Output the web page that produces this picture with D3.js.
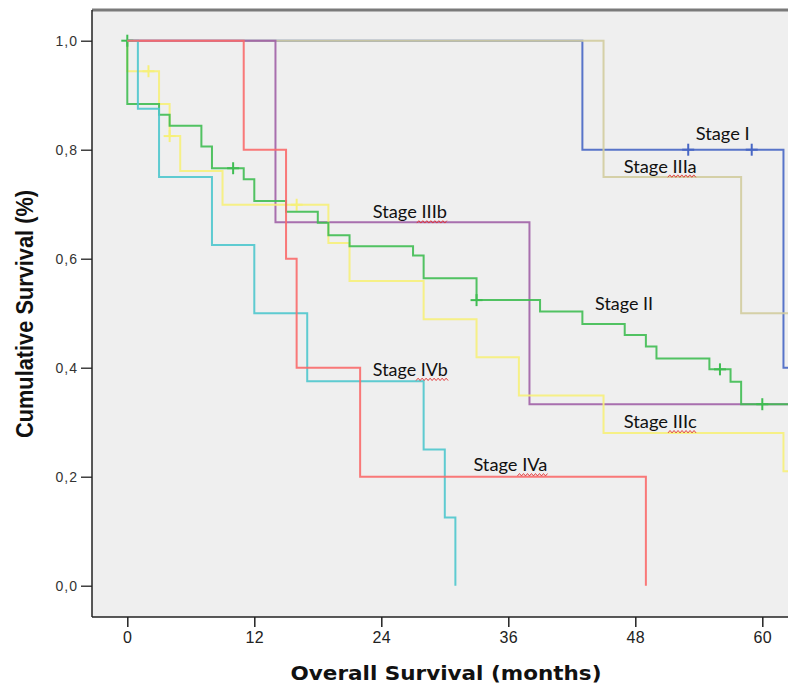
<!DOCTYPE html>
<html>
<head>
<meta charset="utf-8">
<script src="https://cdn.jsdelivr.net/npm/d3@7"></script>
<style>
  body { margin: 0; background: #fff; }
  svg { display: block; }
</style>
</head>
<body>
<script>
// Kaplan-Meier curves by stage: each step is [month, survival after the drop]
const stageI_steps = [[43, 0.8], [62, 0.4]];
const stageI_censor = [[53, 0.8], [59, 0.8]];

const stageII_steps = [[0, 0.884], [3, 0.864], [4, 0.844], [7, 0.806], [8, 0.766], [11, 0.746], [12, 0.706],
    [15, 0.686], [18, 0.666], [19, 0.643], [21, 0.623], [27, 0.606], [28, 0.564], [33, 0.524], [39, 0.503],
    [43, 0.48], [47, 0.46], [49, 0.439], [50, 0.417], [55, 0.397], [57, 0.374], [58, 0.333]];
const stageII_censor = [[0, 1], [10, 0.766], [33, 0.524], [56, 0.397], [60, 0.333]];

const stageIIIa_steps = [[45, 0.75], [58, 0.5]];
const stageIIIb_steps = [[14, 0.667], [38, 0.333]];

const stageIIIc_steps = [[0, 0.944], [3, 0.884], [4, 0.825], [5, 0.761], [9, 0.699], [19, 0.629], [21, 0.559],
    [28, 0.489], [33, 0.419], [37, 0.349], [45, 0.28], [62, 0.21]];
const stageIIIc_censor = [[2, 0.944], [4, 0.825], [16, 0.699]];

const stageIVa_steps = [[11, 0.8], [15, 0.6], [16, 0.4], [22, 0.2], [49, 0]];
const stageIVb_steps = [[1, 0.875], [3, 0.75], [8, 0.625], [12, 0.5], [17, 0.375], [28, 0.25], [30, 0.125], [31, 0]];

const xTicks = [0, 12, 24, 36, 48, 60];
const yTicks = [0, 0.2, 0.4, 0.6, 0.8, 1.0];

// label anchors [month, survival] for the in-plot stage names
const labelNames = ['Stage I', 'Stage IIIa', 'Stage IIIb', 'Stage II', 'Stage IIIc', 'Stage IVb', 'Stage IVa'];
const labelAnchors = [[53.7, 0.818], [46.9, 0.758], [23.2, 0.674], [44.2, 0.506], [46.9, 0.289], [23.2, 0.385], [32.7, 0.21]];
const labelWidths = [54, 73, 74, 58, 73, 75, 74];

const W = 788, H = 688;
const FRAME = { left: 92, top: 10, right: 800, bottom: 617 };

// drawn bottom to top
const series = [
    { name: 'Stage I', steps: stageI_steps, censor: stageI_censor, end: 66, color: '#4766c4' },
    { name: 'Stage IIIa', steps: stageIIIa_steps, censor: [], end: 66, color: '#d2cc9e' },
    { name: 'Stage IIIb', steps: stageIIIb_steps, censor: [], end: 66, color: '#a060a6' },
    { name: 'Stage IIIc', steps: stageIIIc_steps, censor: stageIIIc_censor, end: 66, color: '#f6f07a' },
    { name: 'Stage II', steps: stageII_steps, censor: stageII_censor, end: 66, color: '#3fbd52' },
    { name: 'Stage IVb', steps: stageIVb_steps, censor: [], end: 31, color: '#4ec6cd' },
    { name: 'Stage IVa', steps: stageIVa_steps, censor: [], end: 49, color: '#f96a6a' }
];

const svg = d3.select('body').append('svg')
    .attr('width', W)
    .attr('height', H);

svg.append('rect').attr('width', W).attr('height', H).attr('fill', '#fff');

const x = d3.scaleLinear().domain([0, 60]).range([127.3, 762.3]);
const y = d3.scaleLinear().domain([0, 1]).range([585.7, 40.7]);

svg.append('defs').append('clipPath').attr('id', 'plot-clip')
    .append('rect')
    .attr('x', FRAME.left).attr('y', FRAME.top)
    .attr('width', FRAME.right - FRAME.left).attr('height', FRAME.bottom - FRAME.top);

svg.append('rect')
    .attr('x', FRAME.left).attr('y', FRAME.top)
    .attr('width', FRAME.right - FRAME.left).attr('height', FRAME.bottom - FRAME.top)
    .attr('fill', '#efefef');

const plot = svg.append('g').attr('clip-path', 'url(#plot-clip)');

const line = d3.line()
    .x(d => x(d[0]))
    .y(d => y(d[1]))
    .curve(d3.curveStepAfter);

series.forEach(s => {
    const pts = [[0, 1]].concat(s.steps);
    pts.push([s.end, pts[pts.length - 1][1]]);
    plot.append('path')
        .datum(pts)
        .attr('d', line)
        .attr('fill', 'none')
        .attr('stroke', s.color)
        .attr('stroke-width', 2)
        .attr('opacity', 0.9);

    const marks = plot.selectAll(null).data(s.censor).enter().append('g')
        .attr('transform', d => `translate(${x(d[0])},${y(d[1])})`);
    marks.append('line').attr('x1', 0).attr('x2', 0).attr('y1', -6).attr('y2', 6)
        .attr('stroke', s.color).attr('stroke-width', 2);
    marks.append('line').attr('x1', -6).attr('x2', 6).attr('y1', 0).attr('y2', 0)
        .attr('stroke', s.color).attr('stroke-width', 2);
});

// frame borders
svg.append('line')
    .attr('x1', FRAME.left).attr('x2', W).attr('y1', FRAME.top).attr('y2', FRAME.top)
    .attr('stroke', '#7a7a7a').attr('stroke-width', 3);
svg.append('line')
    .attr('x1', FRAME.left).attr('x2', FRAME.left).attr('y1', FRAME.top).attr('y2', FRAME.bottom)
    .attr('stroke', '#222').attr('stroke-width', 1.5);
svg.append('line')
    .attr('x1', FRAME.left).attr('x2', W).attr('y1', FRAME.bottom).attr('y2', FRAME.bottom)
    .attr('stroke', '#222').attr('stroke-width', 1.5);

const yAxis = d3.axisLeft(y)
    .tickValues(yTicks)
    .tickSize(11)
    .tickPadding(3)
    .tickFormat(d => d3.format('.1f')(d).replace('.', ','));

const yAxisGroup = svg.append('g')
    .attr('transform', `translate(${FRAME.left},0)`)
    .call(yAxis);
yAxisGroup.select('.domain').remove();
yAxisGroup.selectAll('.tick line').attr('stroke', '#222').attr('stroke-width', 1.3);
yAxisGroup.selectAll('.tick text')
    .attr('fill', '#333')
    .style('font-family', '"Liberation Sans", Arial, sans-serif')
    .style('font-size', '14px')
    .style('letter-spacing', '1px');

const xAxis = d3.axisBottom(x)
    .tickValues(xTicks)
    .tickSize(10)
    .tickPadding(5);

const xAxisGroup = svg.append('g')
    .attr('transform', `translate(0,${FRAME.bottom})`)
    .call(xAxis);
xAxisGroup.select('.domain').remove();
xAxisGroup.selectAll('.tick line').attr('stroke', '#222').attr('stroke-width', 1.5);
xAxisGroup.selectAll('.tick text')
    .attr('fill', '#222')
    .style('font-family', '"Liberation Sans", Arial, sans-serif')
    .style('font-size', '16px')
    .style('letter-spacing', '0.5px');

svg.append('text')
    .attr('x', 446)
    .attr('y', 680)
    .attr('text-anchor', 'middle')
    .attr('textLength', 311)
    .attr('lengthAdjust', 'spacingAndGlyphs')
    .style('font-family', '"DejaVu Sans", Verdana, sans-serif')
    .style('font-weight', 'bold')
    .style('font-size', '19px')
    .attr('fill', '#111')
    .text('Overall Survival (months)');

svg.append('text')
    .attr('transform', 'translate(33,314) rotate(-90)')
    .attr('text-anchor', 'middle')
    .attr('textLength', 248)
    .attr('lengthAdjust', 'spacingAndGlyphs')
    .style('font-family', '"Liberation Sans", Arial, sans-serif')
    .style('font-weight', 'bold')
    .style('font-size', '23px')
    .attr('fill', '#111')
    .text('Cumulative Survival (%)');

// stage labels with the squiggly spell-check underline under the numeral
const labelFont = 'Lato, "Open Sans", sans-serif';
const measure = svg.append('text')
    .style('font-family', labelFont).style('font-size', '18px')
    .attr('visibility', 'hidden');

labelNames.forEach((name, i) => {
    const lx = x(labelAnchors[i][0]);
    const ly = y(labelAnchors[i][1]);
    svg.append('text')
        .attr('x', lx)
        .attr('y', ly)
        .attr('textLength', labelWidths[i])
        .attr('lengthAdjust', 'spacingAndGlyphs')
        .style('font-family', labelFont)
        .style('font-size', '18px')
        .attr('fill', '#111')
        .text(name);

    const suffix = name.split(' ')[1];
    if (suffix.length < 3) return;
    measure.text(name);
    const full = measure.node().getComputedTextLength();
    measure.text('Stage ');
    const pre = measure.node().getComputedTextLength();
    const x0 = lx + labelWidths[i] * pre / full;
    const x1 = lx + labelWidths[i] + 1;
    const pts = d3.range(x0, x1, 2).map((px, k) => [px, ly + 3.5 + (k % 2 ? -1.2 : 1.2)]);
    svg.append('path')
        .attr('d', d3.line()(pts))
        .attr('fill', 'none')
        .attr('stroke', '#e03030')
        .attr('stroke-width', 0.9);
});
measure.remove();
</script>
</body>
</html>
